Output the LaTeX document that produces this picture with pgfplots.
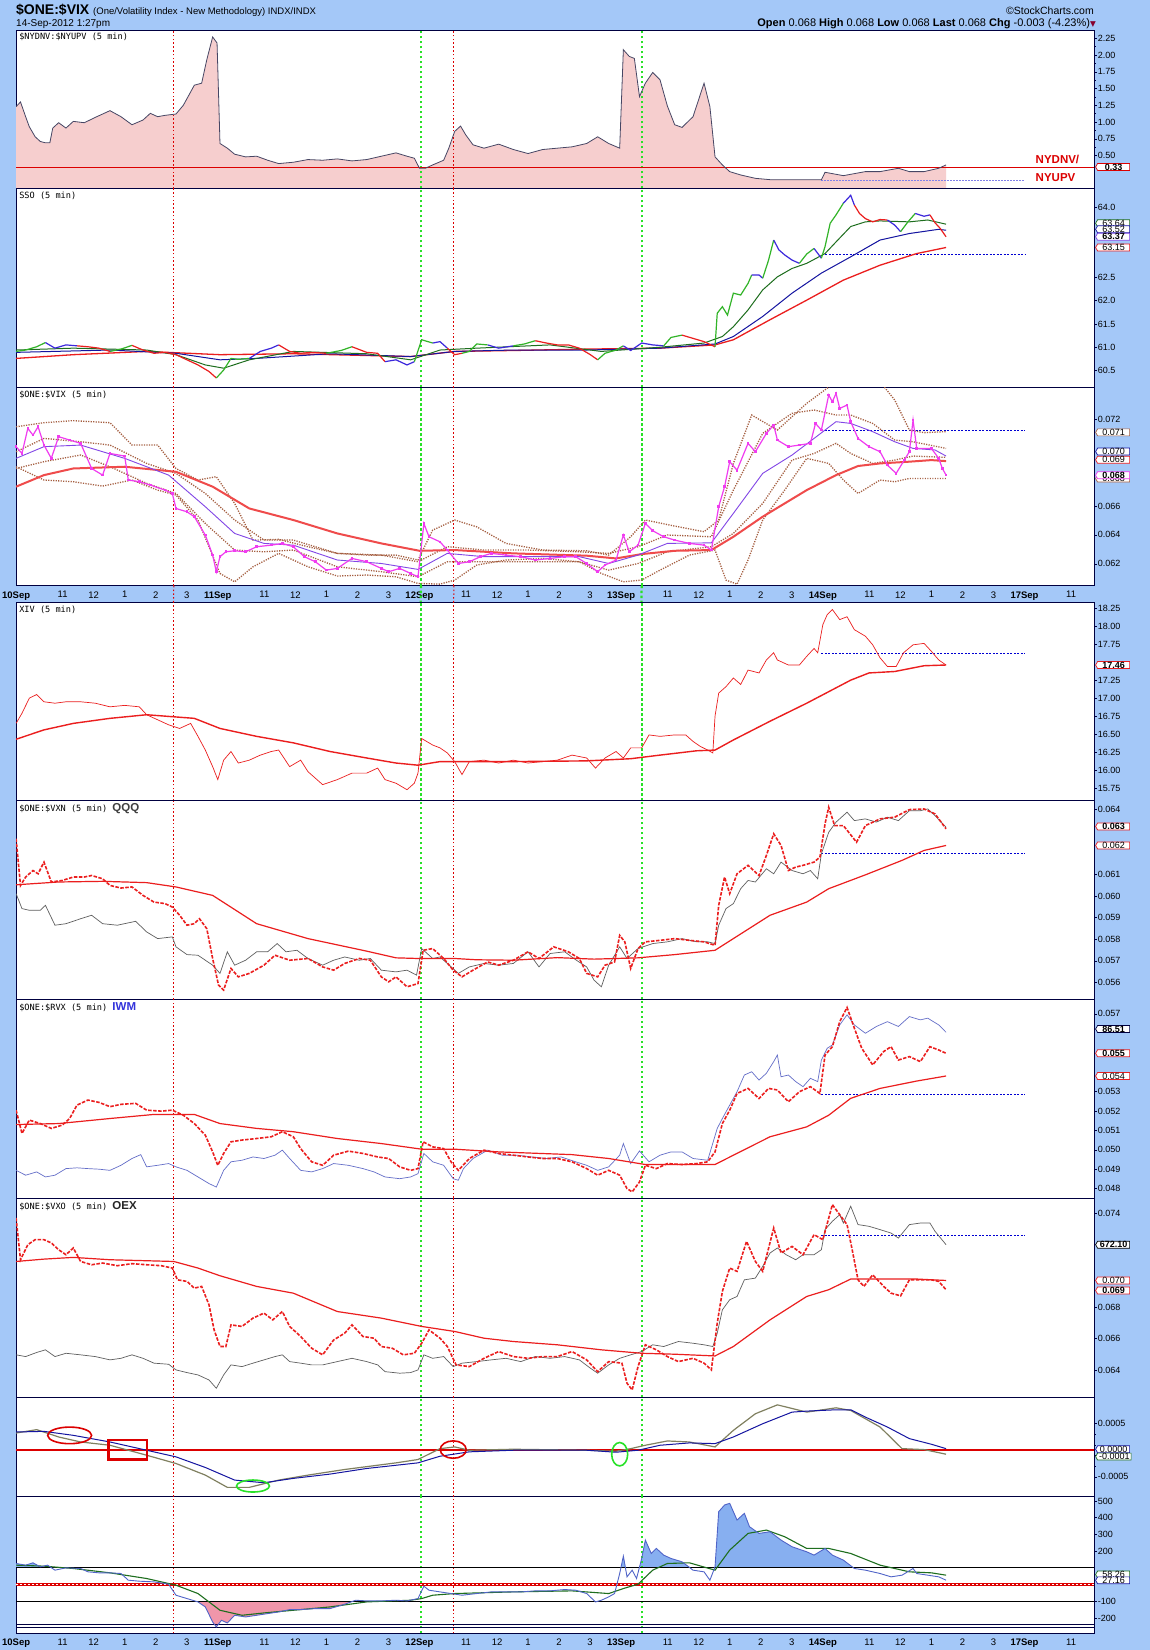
\documentclass[border=0pt]{standalone}
\usepackage{fontspec}
\setmainfont{Liberation Sans}
\newfontfamily\dejavu{DejaVu Sans}
\newfontfamily\monof{DejaVu Sans Mono}
\usepackage{pgfplots}
\pgfplotsset{compat=1.18}
\usetikzlibrary{shapes.symbols}

\definecolor{bgblue}{RGB}{164,200,248}
\definecolor{navy}{RGB}{0,0,64}
\definecolor{pinkfill}{RGB}{246,206,206}
\definecolor{p1line}{RGB}{70,70,100}
\definecolor{eg}{RGB}{50,180,40}
\definecolor{er}{RGB}{235,30,30}
\definecolor{eb}{RGB}{60,40,220}
\definecolor{mag}{RGB}{240,60,240}
\definecolor{mapurple}{RGB}{130,70,230}
\definecolor{bbrown}{RGB}{165,95,65}
\definecolor{greybar}{RGB}{95,95,95}
\definecolor{iwmblue}{RGB}{100,110,200}
\definecolor{oscblue}{RGB}{20,20,160}
\definecolor{olive}{RGB}{128,128,96}
\definecolor{cciblue}{RGB}{80,100,200}
\definecolor{ccifill}{RGB}{135,175,240}
\definecolor{ccipink}{RGB}{240,150,170}
\definecolor{darkgreen}{RGB}{30,110,30}
\definecolor{vlred}{RGB}{220,0,0}
\definecolor{vlgreen}{RGB}{40,225,40}
\definecolor{hblue}{RGB}{0,0,210}

\tikzset{
  vred/.style={draw=vlred, line width=1pt, dash pattern=on 1.6pt off 2.2pt},
  vgreen/.style={draw=vlgreen, line width=2.2pt, dash pattern=on 2.4pt off 2.6pt},
  tag/.style={signal, signal to=west, signal pointer angle=120, draw=#1, fill=white,
    line width=0.7pt, inner xsep=1.5pt, inner ysep=0.3pt, minimum width=34pt,
    anchor=west, xshift=1pt, text=black, font=\fontsize{9}{10}\selectfont},
  ptitle/.style={anchor=north west, inner sep=1pt, xshift=2pt, yshift=-2pt, font=\monof\fontsize{8.6}{10}\selectfont},
  hdash/.style={hblue, line width=0.9pt, dash pattern=on 2pt off 1.5pt},
  bdot/.style={bbrown, line width=1.3pt, dash pattern=on 1.2pt off 1.3pt},
  eline/.style={line width=1.2pt},
}
\pgfplotsset{
  panel/.style={
    scale only axis, width=1078.1pt, anchor=north west,
    xmin=22, xmax=1492, xtick=\empty,
    axis line style={draw=navy, line width=0.8pt},
    axis background/.style={fill=white},
    ytick pos=right, yticklabel pos=right, tick align=outside,
    major tick length=2.5pt, minor tick length=1.5pt,
    y tick style={navy, line width=0.5pt},
    minor y tick num=1,
    yticklabel style={font=\fontsize{9}{10}\selectfont, inner sep=1pt},
    /pgf/number format/assume math mode=true,
    scaled y ticks=false,
    clip mode=individual,
  },
  datex/.style={
    xtick={22,85.5,127.8,170.1,212.4,254.7,297,360.5,402.8,445.1,487.4,529.7,572,635.5,677.8,720.1,762.4,804.7,847,910.5,952.8,995.1,1037.4,1079.7,1122,1185.5,1227.8,1270.1,1312.4,1354.7,1397,1460.5},
    xticklabels={\textbf{10Sep},11,12,1,2,3,\textbf{11Sep},11,12,1,2,3,\textbf{12Sep},11,12,1,2,3,\textbf{13Sep},11,12,1,2,3,\textbf{14Sep},11,12,1,2,3,\textbf{17Sep},11},
    xticklabel pos=bottom,
    x tick style={draw=none},
    xticklabel style={font=\fontsize{9.5}{10}\selectfont, inner sep=1pt, yshift=-2pt},
  },
}
\newcommand{\vlines}{%
  \draw[vred] (axis cs:237,\pgfkeysvalueof{/pgfplots/ymin}) -- (axis cs:237,\pgfkeysvalueof{/pgfplots/ymax});
  \draw[vred] (axis cs:619,\pgfkeysvalueof{/pgfplots/ymin}) -- (axis cs:619,\pgfkeysvalueof{/pgfplots/ymax});
  \draw[vgreen] (axis cs:574,\pgfkeysvalueof{/pgfplots/ymin}) -- (axis cs:574,\pgfkeysvalueof{/pgfplots/ymax});
  \draw[vgreen] (axis cs:875,\pgfkeysvalueof{/pgfplots/ymin}) -- (axis cs:875,\pgfkeysvalueof{/pgfplots/ymax});
}
\newcommand{\tagat}[4][]{\node[tag=#2,#1] at (axis cs:1492,#3) {#4};}

\begin{document}
\begin{tikzpicture}[x=1pt,y=1pt]
\fill[bgblue] (0,0) rectangle (1150,-1650);
\path[use as bounding box] (0,0) rectangle (1150,-1650);

% header
\node[anchor=base west, inner sep=0] at (16,-14) {\fontsize{14}{16}\selectfont\bfseries \$ONE:\$VIX\ \fontsize{9.5}{11}\mdseries(One/Volatility Index - New Methodology) INDX/INDX};
\node[anchor=base west, inner sep=0] at (16,-26.5) {\fontsize{10}{11}\selectfont 14-Sep-2012 1:27pm};
\node[anchor=base east, inner sep=0] at (1094,-14) {\fontsize{10.5}{12}\selectfont \textcopyright StockCharts.com};
\node[anchor=base east, inner sep=0] at (1096,-26.5) {\fontsize{11}{12}\selectfont \textbf{Open} 0.068 \textbf{High} 0.068 \textbf{Low} 0.068 \textbf{Last} 0.068 \textbf{Chg} -0.003 (-4.23\%){\dejavu\color{purple!70!black}\fontsize{7.5}{8}\selectfont ▼}};

% ===== Panel 1 =====
\begin{axis}[panel, at={(16.1pt,-30pt)}, height=158.3pt, ymin=0.011, ymax=2.374,
  ytick={0.5,0.75,1,1.25,1.5,1.75,2,2.25},
  yticklabel style={/pgf/number format/.cd,fixed,fixed zerofill,precision=2}]
\addplot[fill=pinkfill, draw=none] coordinates {(22,1.23)(28,1.30)(35,1.08)(40,0.93)(48,0.78)(55,0.71)(62,0.69)(68,0.69)(72,0.91)(80,0.99)(90,0.91)(100,1.01)(115,0.99)(130,1.07)(150,1.17)(165,1.08)(180,0.96)(195,1.03)(205,1.13)(215,1.08)(225,1.10)(240,1.12)(250,1.25)(265,1.55)(275,1.58)(282,1.93)(290,2.27)(296,2.18)(300,0.68)(310,0.61)(320,0.52)(335,0.48)(350,0.49)(365,0.43)(380,0.38)(400,0.40)(420,0.44)(440,0.43)(460,0.45)(480,0.42)(500,0.44)(520,0.49)(540,0.54)(555,0.49)(565,0.46)(572,0.31)(580,0.31)(590,0.36)(605,0.43)(612,0.61)(620,0.86)(628,0.94)(635,0.81)(645,0.66)(660,0.61)(680,0.67)(700,0.59)(720,0.53)(740,0.59)(760,0.61)(780,0.63)(800,0.68)(815,0.78)(830,0.68)(845,0.61)(850,2.08)(858,1.98)(865,1.95)(872,1.38)(880,1.58)(890,1.74)(900,1.63)(910,1.24)(920,0.96)(930,0.92)(945,1.08)(960,1.58)(968,1.23)(975,0.48)(985,0.36)(995,0.26)(1010,0.21)(1030,0.16)(1050,0.14)(1080,0.14)(1120,0.14)(1125,0.25)(1150,0.20)(1180,0.26)(1200,0.26)(1225,0.31)(1240,0.26)(1260,0.26)(1280,0.31)(1290,0.36)} \closedcycle;
\vlines
\addplot[hblue!50!white, line width=0.9pt, dash pattern=on 1.5pt off 1.5pt] coordinates {(1120,0.125)(1398,0.125)};
\addplot[vlred, line width=1pt] coordinates {(22,0.325)(1492,0.325)};
\addplot[p1line, line width=0.8pt] coordinates {(22,1.23)(28,1.30)(35,1.08)(40,0.93)(48,0.78)(55,0.71)(62,0.69)(68,0.69)(72,0.91)(80,0.99)(90,0.91)(100,1.01)(115,0.99)(130,1.07)(150,1.17)(165,1.08)(180,0.96)(195,1.03)(205,1.13)(215,1.08)(225,1.10)(240,1.12)(250,1.25)(265,1.55)(275,1.58)(282,1.93)(290,2.27)(296,2.18)(300,0.68)(310,0.61)(320,0.52)(335,0.48)(350,0.49)(365,0.43)(380,0.38)(400,0.40)(420,0.44)(440,0.43)(460,0.45)(480,0.42)(500,0.44)(520,0.49)(540,0.54)(555,0.49)(565,0.46)(572,0.31)(580,0.31)(590,0.36)(605,0.43)(612,0.61)(620,0.86)(628,0.94)(635,0.81)(645,0.66)(660,0.61)(680,0.67)(700,0.59)(720,0.53)(740,0.59)(760,0.61)(780,0.63)(800,0.68)(815,0.78)(830,0.68)(845,0.61)(850,2.08)(858,1.98)(865,1.95)(872,1.38)(880,1.58)(890,1.74)(900,1.63)(910,1.24)(920,0.96)(930,0.92)(945,1.08)(960,1.58)(968,1.23)(975,0.48)(985,0.36)(995,0.26)(1010,0.21)(1030,0.16)(1050,0.14)(1080,0.14)(1120,0.14)(1125,0.25)(1150,0.20)(1180,0.26)(1200,0.26)(1225,0.31)(1240,0.26)(1260,0.26)(1280,0.31)(1290,0.36)};
\node[ptitle] at (rel axis cs:0,1) {\$NYDNV:\$NYUPV (5 min)};
\node[anchor=west, text=vlred, font=\fontsize{11.5}{12}\selectfont\bfseries, inner sep=0] at (axis cs:1412,0.44) {NYDNV/};
\node[anchor=west, text=vlred, font=\fontsize{11.5}{12}\selectfont\bfseries, inner sep=0] at (axis cs:1412,0.175) {NYUPV};
\tagat{vlred}{0.33}{\textbf{0.33}}
\end{axis}

% ===== Panel 2 SSO =====
\begin{axis}[panel, at={(16.1pt,-188.3pt)}, height=199pt, ymin=60.14, ymax=64.41,
  ytick={60.5,61,61.5,62,62.5,64},
  yticklabel style={/pgf/number format/.cd,fixed,fixed zerofill,precision=1}]
\vlines
\addplot[hdash] coordinates {(1125,62.99)(1398,62.99)};
\addplot[er, line width=1.3pt] coordinates {(22,60.76)(100,60.84)(200,60.91)(300,60.84)(400,60.86)(560,60.80)(620,60.91)(700,60.93)(800,60.96)(900,60.98)(975,61.05)(1000,61.16)(1050,61.59)(1100,62.01)(1150,62.44)(1200,62.76)(1250,63.01)(1290,63.14)};
\addplot[oscblue, line width=1pt] coordinates {(22,60.89)(150,60.94)(240,60.87)(300,60.73)(350,60.76)(450,60.86)(560,60.80)(620,60.91)(700,60.94)(800,60.94)(900,60.98)(975,61.07)(1000,61.23)(1040,61.66)(1080,62.16)(1120,62.59)(1160,62.94)(1200,63.30)(1240,63.44)(1280,63.53)(1290,63.51)};
\addplot[darkgreen, line width=1pt] coordinates {(22,60.94)(100,60.98)(200,60.94)(240,60.84)(280,60.62)(305,60.55)(340,60.73)(400,60.91)(500,60.86)(560,60.73)(600,60.94)(650,60.98)(750,61.05)(820,60.91)(900,61.00)(960,61.09)(985,61.23)(1000,61.44)(1020,61.80)(1040,62.23)(1060,62.51)(1080,62.69)(1100,62.80)(1125,63.01)(1140,63.26)(1160,63.59)(1180,63.69)(1200,63.71)(1240,63.69)(1265,63.73)(1290,63.64)};
\addplot[eg, eline] coordinates {(22,60.91)(35,60.94)(50,61.01)(62,61.10)};
\addplot[eb, eline] coordinates {(62,61.10)(75,60.98)(90,61.05)(105,61.03)};
\addplot[er, eline] coordinates {(105,61.03)(120,61.01)(135,60.98)(150,60.91)};
\addplot[eg, eline] coordinates {(150,60.91)(165,60.96)(180,61.04)};
\addplot[er, eline] coordinates {(180,61.04)(195,60.94)(210,60.87)(225,60.89)(240,60.84)(255,60.73)(270,60.62)(285,60.48)(295,60.34)};
\addplot[eg, eline] coordinates {(295,60.34)(305,60.51)(315,60.76)(325,60.74)(340,60.76)};
\addplot[eb, eline] coordinates {(340,60.76)(355,60.91)(370,60.98)(380,61.05)};
\addplot[er, eline] coordinates {(380,61.05)(395,60.91)(410,60.87)(425,60.89)(445,60.87)};
\addplot[eg, eline] coordinates {(445,60.87)(465,60.93)(480,61.01)};
\addplot[er, eline] coordinates {(480,61.01)(500,60.89)(515,60.87)(525,60.69)};
\addplot[eb, eline] coordinates {(525,60.69)(540,60.73)(555,60.62)(565,60.69)};
\addplot[eg, eline] coordinates {(565,60.69)(575,61.16)(590,61.09)};
\addplot[eb, eline] coordinates {(590,61.09)(600,61.12)(610,60.98)};
\addplot[er, eline] coordinates {(610,60.98)(620,60.84)(630,60.87)};
\addplot[eg, eline] coordinates {(630,60.87)(640,60.91)(650,61.07)(665,61.05)};
\addplot[eb, eline] coordinates {(665,61.05)(680,60.98)(700,61.03)};
\addplot[eg, eline] coordinates {(700,61.03)(715,61.07)(730,61.14)};
\addplot[er, eline] coordinates {(730,61.14)(745,61.09)(760,61.05)(775,61.05)(790,60.98)(805,60.84)(815,60.73)};
\addplot[eg, eline] coordinates {(815,60.73)(825,60.87)(840,60.94)(850,61.03)};
\addplot[eb, eline] coordinates {(850,61.03)(860,60.93)(875,61.09)(890,61.05)(905,61.03)};
\addplot[eg, eline] coordinates {(905,61.03)(915,61.21)(930,61.26)};
\addplot[er, eline] coordinates {(930,61.26)(945,61.19)(960,61.12)(975,61.01)};
\addplot[eg, eline] coordinates {(975,61.01)(978,61.73)(985,61.87)(992,61.69)(1000,62.16)(1010,62.12)(1020,62.37)(1025,62.55)};
\addplot[eb, eline] coordinates {(1025,62.55)(1035,62.55)(1040,62.48)};
\addplot[eg, eline] coordinates {(1040,62.48)(1048,62.87)(1055,63.30)};
\addplot[eb, eline] coordinates {(1055,63.30)(1062,63.09)(1070,62.98)(1080,62.87)(1090,62.80)};
\addplot[eg, eline] coordinates {(1090,62.80)(1100,63.00)(1110,63.12)};
\addplot[eb, eline] coordinates {(1110,63.12)(1120,62.91)};
\addplot[eg, eline] coordinates {(1120,62.91)(1125,63.16)(1132,63.66)(1140,63.84)(1150,64.09)};
\addplot[eb, eline] coordinates {(1150,64.09)(1160,64.26)(1165,64.05)};
\addplot[er, eline] coordinates {(1165,64.05)(1172,63.87)(1180,63.76)(1190,63.69)(1200,63.74)(1210,63.73)};
\addplot[eb, eline] coordinates {(1210,63.73)(1220,63.62)(1228,63.48)};
\addplot[eg, eline] coordinates {(1228,63.48)(1238,63.69)(1248,63.87)};
\addplot[eb, eline] coordinates {(1248,63.87)(1260,63.81)(1268,63.84)};
\addplot[er, eline] coordinates {(1268,63.84)(1275,63.67)(1282,63.55)(1290,63.37)};
\node[ptitle] at (rel axis cs:0,1) {SSO (5 min)};
\tagat{darkgreen}{63.66}{63.64}
\tagat{oscblue}{63.53}{63.52}
\tagat{mapurple}{63.37}{\textbf{63.37}}
\tagat{er}{63.14}{63.15}
\end{axis}

% ===== Panel 3 ONE:VIX =====
\begin{axis}[panel, at={(16.1pt,-387.3pt)}, height=198.4pt, ymin=0.06048, ymax=0.07422,
  ytick={0.062,0.064,0.066,0.072},
  yticklabel style={/pgf/number format/.cd,fixed,fixed zerofill,precision=3},
  datex]
\vlines
\draw[vred] (axis cs:237,0.06048) -- ++(0,-16.6pt);
\draw[vred] (axis cs:619,0.06048) -- ++(0,-16.6pt);
\draw[vgreen] (axis cs:574,0.06048) -- ++(0,-16.6pt);
\draw[vgreen] (axis cs:875,0.06048) -- ++(0,-16.6pt);
\addplot[hdash] coordinates {(1120,0.07121)(1398,0.07121)};
\addplot[bdot] coordinates {(22,0.07149)(60,0.07177)(100,0.07191)(150,0.07177)(180,0.07022)(215,0.07022)(240,0.06860)(270,0.06780)(295,0.06803)(320,0.06618)(345,0.06364)(380,0.06369)(420,0.06318)(460,0.06272)(500,0.06260)(540,0.06260)(570,0.06226)(590,0.06433)(620,0.06503)(650,0.06456)(690,0.06341)(740,0.06295)(800,0.06290)(830,0.06260)(860,0.06387)(880,0.06503)(920,0.06461)(960,0.06422)(980,0.06503)(1000,0.06895)(1025,0.07230)(1060,0.07126)(1100,0.07311)(1140,0.07461)(1160,0.07473)(1200,0.07461)(1220,0.07334)(1240,0.07126)(1260,0.07108)(1290,0.07115)};
\addplot[bdot] coordinates {(22,0.06872)(60,0.06780)(100,0.06768)(140,0.06738)(180,0.06780)(215,0.06710)(240,0.06676)(270,0.06503)(300,0.06133)(320,0.06075)(345,0.06179)(380,0.06272)(420,0.06179)(460,0.06115)(500,0.06122)(540,0.06110)(570,0.06064)(600,0.06059)(620,0.06087)(650,0.06191)(690,0.06226)(740,0.06237)(790,0.06214)(820,0.06133)(850,0.06075)(875,0.06087)(900,0.06156)(940,0.06260)(975,0.06295)(990,0.06087)(1005,0.06059)(1020,0.06226)(1040,0.06503)(1070,0.06710)(1100,0.06930)(1130,0.06895)(1150,0.06780)(1170,0.06687)(1200,0.06780)(1220,0.06768)(1240,0.06791)(1290,0.06791)};
\addplot[bdot] coordinates {(22,0.06976)(60,0.07068)(110,0.07045)(150,0.07022)(200,0.06895)(240,0.06826)(280,0.06687)(320,0.06503)(360,0.06364)(400,0.06364)(460,0.06272)(520,0.06260)(570,0.06214)(610,0.06318)(660,0.06295)(720,0.06295)(790,0.06283)(830,0.06272)(870,0.06318)(910,0.06399)(970,0.06387)(1000,0.06710)(1040,0.07103)(1080,0.07242)(1110,0.07265)(1140,0.07230)(1160,0.07230)(1190,0.07172)(1220,0.07057)(1245,0.07045)(1290,0.06999)};
\addplot[bdot] coordinates {(22,0.06860)(60,0.06907)(110,0.06953)(150,0.06872)(200,0.06757)(240,0.06687)(280,0.06479)(320,0.06295)(360,0.06283)(400,0.06295)(460,0.06179)(520,0.06145)(570,0.06110)(610,0.06214)(660,0.06214)(720,0.06214)(790,0.06214)(830,0.06156)(870,0.06202)(910,0.06283)(970,0.06318)(1000,0.06410)(1040,0.06618)(1080,0.06918)(1110,0.06964)(1140,0.07034)(1160,0.06964)(1190,0.06895)(1220,0.06918)(1245,0.06946)(1290,0.06937)};
\addplot[er!80!white, line width=2pt] coordinates {(22,0.06734)(60,0.06814)(100,0.06860)(170,0.06872)(240,0.06837)(290,0.06734)(340,0.06583)(400,0.06503)(460,0.06410)(520,0.06341)(572,0.06290)(620,0.06295)(700,0.06272)(800,0.06256)(840,0.06237)(875,0.06267)(920,0.06290)(970,0.06295)(1000,0.06387)(1040,0.06526)(1100,0.06710)(1140,0.06814)(1170,0.06877)(1200,0.06895)(1240,0.06907)(1270,0.06918)(1290,0.06911)};
\addplot[mapurple, line width=0.9pt] coordinates {(22,0.06930)(60,0.07011)(110,0.07022)(170,0.06930)(230,0.06814)(280,0.06595)(320,0.06410)(360,0.06341)(400,0.06329)(460,0.06226)(520,0.06202)(570,0.06161)(610,0.06272)(660,0.06249)(720,0.06249)(790,0.06249)(830,0.06202)(870,0.06260)(910,0.06341)(970,0.06345)(1000,0.06549)(1040,0.06826)(1080,0.06953)(1110,0.07068)(1140,0.07184)(1160,0.07172)(1190,0.07115)(1220,0.07045)(1245,0.06999)(1275,0.06988)(1290,0.06946)};
\addplot[mag, line width=1.2pt, mark=square*, mark size=0.7pt] coordinates {(22,0.07011)(30,0.06964)(38,0.07138)(45,0.07091)(52,0.07149)(60,0.07022)(70,0.06930)(80,0.07080)(95,0.07057)(110,0.07034)(125,0.06860)(140,0.06814)(150,0.06964)(170,0.06946)(175,0.06780)(190,0.06768)(205,0.06745)(225,0.06710)(235,0.06687)(240,0.06583)(255,0.06560)(265,0.06526)(280,0.06399)(290,0.06260)(295,0.06145)(300,0.06249)(308,0.06283)(320,0.06290)(335,0.06283)(350,0.06318)(370,0.06329)(385,0.06341)(400,0.06318)(415,0.06249)(430,0.06214)(445,0.06156)(460,0.06168)(480,0.06237)(500,0.06214)(520,0.06168)(530,0.06145)(545,0.06168)(560,0.06133)(570,0.06110)(578,0.06479)(585,0.06387)(600,0.06352)(610,0.06295)(625,0.06202)(640,0.06214)(655,0.06249)(670,0.06272)(690,0.06260)(710,0.06249)(730,0.06226)(750,0.06237)(770,0.06249)(785,0.06249)(800,0.06202)(815,0.06145)(825,0.06191)(840,0.06226)(850,0.06399)(858,0.06283)(870,0.06329)(880,0.06479)(890,0.06429)(905,0.06387)(920,0.06364)(940,0.06341)(960,0.06329)(970,0.06295)(980,0.06595)(988,0.06734)(995,0.06907)(1005,0.06848)(1020,0.07034)(1030,0.06976)(1045,0.07103)(1055,0.07161)(1060,0.07057)(1075,0.07011)(1090,0.07022)(1105,0.07034)(1112,0.07172)(1120,0.07126)(1130,0.07369)(1135,0.07322)(1140,0.07380)(1145,0.07276)(1155,0.07299)(1160,0.07184)(1170,0.07068)(1185,0.07011)(1200,0.06976)(1210,0.06883)(1222,0.06826)(1233,0.06918)(1240,0.06976)(1245,0.07195)(1250,0.06999)(1270,0.06999)(1280,0.06930)(1285,0.06860)(1290,0.06814)};
\node[ptitle] at (rel axis cs:0,1) {\$ONE:\$VIX (5 min)};
\tagat{bbrown}{0.07110}{0.071}
\tagat{oscblue}{0.06977}{0.070}
\tagat{er}{0.06920}{0.069}
\tagat{bbrown}{0.06790}{0.068}
\tagat{mag}{0.06813}{\textbf{0.068}}
\end{axis}

% ===== Panel 4 XIV =====
\begin{axis}[panel, at={(16.1pt,-602.3pt)}, height=198.2pt, ymin=15.58, ymax=18.33,
  ytick={15.75,16,16.25,16.5,16.75,17,17.25,17.75,18,18.25},
  yticklabel style={/pgf/number format/.cd,fixed,fixed zerofill,precision=2}]
\vlines
\addplot[hdash] coordinates {(1120,17.625)(1398,17.625)};
\addplot[er, line width=1.4pt] coordinates {(22,16.43)(60,16.56)(100,16.65)(150,16.72)(200,16.77)(265,16.72)(300,16.58)(350,16.47)(400,16.38)(450,16.26)(500,16.17)(540,16.10)(570,16.07)(600,16.12)(700,16.12)(800,16.13)(860,16.16)(900,16.21)(950,16.27)(975,16.28)(1000,16.42)(1050,16.68)(1100,16.93)(1130,17.09)(1160,17.25)(1185,17.35)(1220,17.37)(1260,17.45)(1290,17.46)};
\addplot[er, line width=0.7pt] coordinates {(22,16.65)(30,16.79)(40,17.00)(50,17.05)(60,16.95)(75,16.93)(90,16.95)(110,16.95)(130,16.93)(150,16.88)(170,16.90)(190,16.88)(200,16.77)(215,16.70)(230,16.63)(245,16.58)(260,16.65)(270,16.47)(280,16.28)(290,16.05)(297,15.87)(305,16.14)(315,16.26)(325,16.10)(340,16.14)(355,16.21)(370,16.26)(380,16.28)(395,16.05)(410,16.14)(420,15.98)(440,15.80)(460,15.87)(480,15.96)(500,15.96)(515,16.03)(525,15.87)(540,15.82)(555,15.73)(565,15.82)(570,15.96)(575,16.44)(590,16.35)(600,16.31)(610,16.24)(620,16.12)(630,15.94)(640,16.12)(660,16.14)(680,16.10)(700,16.14)(720,16.10)(740,16.12)(760,16.14)(780,16.21)(800,16.17)(812,16.03)(825,16.17)(840,16.26)(850,16.17)(860,16.31)(875,16.31)(885,16.49)(900,16.47)(920,16.49)(935,16.49)(945,16.40)(955,16.33)(965,16.28)(972,16.24)(975,16.75)(980,17.07)(990,17.16)(1000,17.28)(1010,17.19)(1020,17.39)(1035,17.35)(1045,17.53)(1055,17.63)(1060,17.53)(1075,17.46)(1090,17.46)(1100,17.58)(1110,17.69)(1115,17.63)(1122,18.02)(1128,18.16)(1135,18.23)(1145,18.09)(1155,18.13)(1165,17.95)(1180,17.86)(1190,17.74)(1200,17.56)(1210,17.44)(1222,17.44)(1232,17.63)(1245,17.74)(1260,17.76)(1270,17.65)(1280,17.53)(1290,17.46)};
\node[ptitle] at (rel axis cs:0,1) {XIV (5 min)};
\tagat{er}{17.46}{\textbf{17.46}}
\end{axis}

% ===== Panel 5 VXN =====
\begin{axis}[panel, at={(16.1pt,-800.5pt)}, height=198.6pt, ymin=0.05523, ymax=0.06442,
  ytick={0.056,0.057,0.058,0.059,0.060,0.061,0.064},
  yticklabel style={/pgf/number format/.cd,fixed,fixed zerofill,precision=3}]
\vlines
\addplot[hdash] coordinates {(1120,0.06195)(1398,0.06195)};
\addplot[greybar, line width=0.7pt] coordinates {(22,0.06011)(30,0.05942)(40,0.05934)(55,0.05934)(62,0.05957)(75,0.05865)(90,0.05872)(110,0.05895)(125,0.05911)(140,0.05872)(160,0.05865)(185,0.05883)(200,0.05834)(215,0.05803)(235,0.05811)(240,0.05765)(255,0.05729)(270,0.05726)(290,0.05680)(300,0.05642)(310,0.05742)(320,0.05680)(335,0.05703)(350,0.05742)(365,0.05742)(378,0.05780)(390,0.05742)(405,0.05749)(420,0.05711)(440,0.05680)(455,0.05703)(470,0.05718)(490,0.05703)(505,0.05711)(520,0.05657)(540,0.05649)(555,0.05657)(568,0.05634)(575,0.05757)(590,0.05711)(600,0.05718)(610,0.05688)(625,0.05642)(640,0.05672)(660,0.05688)(680,0.05680)(700,0.05688)(720,0.05742)(735,0.05672)(750,0.05734)(770,0.05742)(785,0.05705)(800,0.05672)(810,0.05611)(820,0.05580)(830,0.05680)(845,0.05765)(855,0.05711)(870,0.05757)(890,0.05780)(910,0.05788)(930,0.05803)(950,0.05788)(965,0.05788)(975,0.05780)(980,0.05865)(990,0.05942)(1000,0.05965)(1010,0.06034)(1020,0.06072)(1030,0.06065)(1045,0.06126)(1055,0.06103)(1065,0.06157)(1080,0.06118)(1095,0.06103)(1105,0.06118)(1115,0.06080)(1120,0.06195)(1130,0.06295)(1140,0.06342)(1155,0.06388)(1165,0.06349)(1180,0.06357)(1195,0.06342)(1210,0.06365)(1225,0.06349)(1240,0.06395)(1255,0.06395)(1265,0.06403)(1275,0.06372)(1290,0.06318)};
\addplot[er, line width=1.2pt] coordinates {(22,0.06052)(80,0.06065)(140,0.06068)(200,0.06062)(240,0.06042)(290,0.06003)(350,0.05872)(420,0.05803)(500,0.05745)(540,0.05714)(570,0.05711)(620,0.05711)(650,0.05705)(700,0.05703)(760,0.05715)(810,0.05708)(870,0.05714)(920,0.05729)(975,0.05749)(1000,0.05803)(1050,0.05911)(1100,0.05972)(1130,0.06034)(1180,0.06098)(1230,0.06165)(1260,0.06211)(1290,0.06234)};
\addplot[er, line width=1.6pt, dash pattern=on 3.5pt off 1.5pt] coordinates {(22,0.06265)(28,0.06049)(35,0.06088)(45,0.06118)(52,0.06103)(60,0.06157)(70,0.06065)(85,0.06072)(100,0.06088)(115,0.06088)(125,0.06095)(140,0.06080)(150,0.06049)(165,0.06037)(180,0.06042)(195,0.06003)(210,0.05972)(225,0.05965)(235,0.05949)(245,0.05911)(255,0.05865)(265,0.05872)(272,0.05895)(282,0.05849)(290,0.05711)(298,0.05588)(305,0.05565)(315,0.05665)(325,0.05626)(340,0.05642)(360,0.05680)(375,0.05726)(395,0.05703)(420,0.05711)(440,0.05672)(455,0.05657)(470,0.05688)(490,0.05711)(505,0.05703)(520,0.05626)(530,0.05603)(540,0.05626)(555,0.05580)(570,0.05595)(577,0.05749)(590,0.05757)(605,0.05711)(618,0.05657)(630,0.05626)(645,0.05657)(665,0.05695)(680,0.05680)(700,0.05703)(720,0.05742)(735,0.05711)(755,0.05765)(775,0.05742)(790,0.05711)(800,0.05642)(815,0.05626)(825,0.05680)(838,0.05695)(845,0.05818)(852,0.05788)(860,0.05665)(870,0.05757)(880,0.05788)(900,0.05795)(920,0.05803)(940,0.05795)(960,0.05788)(975,0.05772)(980,0.05957)(988,0.06088)(995,0.06011)(1005,0.06103)(1020,0.06142)(1035,0.06095)(1045,0.06188)(1055,0.06288)(1065,0.06234)(1075,0.06118)(1085,0.06134)(1095,0.06142)(1110,0.06157)(1118,0.06180)(1125,0.06334)(1130,0.06411)(1138,0.06326)(1150,0.06326)(1168,0.06249)(1180,0.06326)(1200,0.06357)(1220,0.06365)(1240,0.06400)(1260,0.06403)(1275,0.06380)(1290,0.06311)};
\node[ptitle] at (rel axis cs:0,1) {\$ONE:\$VXN (5 min) {\normalfont\fontsize{11.5}{12}\selectfont\bfseries\color{black!75}QQQ}};
\tagat{er}{0.06322}{\textbf{0.063}}
\tagat{er}{0.06234}{0.062}
\end{axis}

% ===== Panel 6 RVX =====
\begin{axis}[panel, at={(16.1pt,-999.1pt)}, height=198.8pt, ymin=0.04752, ymax=0.05776,
  ytick={0.048,0.049,0.050,0.051,0.052,0.053,0.057},
  yticklabel style={/pgf/number format/.cd,fixed,fixed zerofill,precision=3}]
\vlines
\addplot[hdash] coordinates {(1120,0.05285)(1398,0.05285)};
\addplot[iwmblue, line width=0.7pt] coordinates {(22,0.04894)(35,0.04869)(50,0.04886)(62,0.04860)(75,0.04869)(90,0.04903)(105,0.04907)(120,0.04903)(135,0.04900)(150,0.04894)(165,0.04920)(180,0.04955)(192,0.04975)(200,0.04912)(215,0.04920)(230,0.04929)(240,0.04912)(255,0.04894)(270,0.04860)(285,0.04826)(295,0.04808)(305,0.04894)(315,0.04938)(330,0.04946)(345,0.04963)(360,0.04955)(375,0.04972)(385,0.04998)(395,0.04955)(410,0.04894)(425,0.04886)(440,0.04903)(455,0.04929)(475,0.04920)(495,0.04903)(510,0.04886)(525,0.04860)(545,0.04851)(560,0.04860)(570,0.04877)(578,0.04981)(590,0.04938)(605,0.04920)(618,0.04851)(625,0.04843)(632,0.04903)(645,0.04955)(665,0.04998)(685,0.04972)(705,0.04972)(725,0.04963)(745,0.04955)(765,0.04963)(785,0.04938)(800,0.04920)(815,0.04894)(830,0.04912)(845,0.04972)(850,0.05032)(860,0.04929)(872,0.04994)(885,0.04938)(900,0.04972)(915,0.04989)(930,0.04989)(945,0.04955)(965,0.04946)(978,0.05110)(985,0.05161)(995,0.05230)(1005,0.05299)(1015,0.05385)(1025,0.05402)(1035,0.05359)(1045,0.05394)(1055,0.05454)(1060,0.05488)(1065,0.05376)(1075,0.05385)(1085,0.05351)(1095,0.05325)(1105,0.05368)(1115,0.05351)(1120,0.05462)(1128,0.05523)(1135,0.05540)(1145,0.05643)(1155,0.05695)(1165,0.05643)(1180,0.05600)(1195,0.05635)(1210,0.05660)(1225,0.05635)(1240,0.05686)(1255,0.05669)(1265,0.05678)(1280,0.05643)(1290,0.05605)};
\addplot[er, line width=1.2pt] coordinates {(22,0.05130)(80,0.05135)(150,0.05161)(210,0.05182)(265,0.05182)(300,0.05135)(350,0.05110)(400,0.05093)(460,0.05058)(520,0.05032)(575,0.05003)(620,0.05003)(680,0.04989)(780,0.04975)(830,0.04955)(880,0.04924)(975,0.04924)(1000,0.04972)(1050,0.05067)(1100,0.05118)(1130,0.05178)(1160,0.05265)(1200,0.05316)(1250,0.05354)(1290,0.05380)};
\addplot[er, line width=1.6pt, dash pattern=on 3.5pt off 1.5pt] coordinates {(22,0.05204)(30,0.05084)(40,0.05153)(55,0.05135)(70,0.05110)(85,0.05127)(95,0.05161)(105,0.05230)(120,0.05256)(135,0.05244)(150,0.05222)(165,0.05234)(185,0.05239)(200,0.05204)(220,0.05199)(235,0.05204)(250,0.05178)(265,0.05135)(280,0.05075)(290,0.04989)(297,0.04920)(305,0.04981)(315,0.05041)(330,0.05050)(350,0.05058)(370,0.05067)(385,0.05093)(400,0.05067)(410,0.05006)(425,0.04938)(440,0.04920)(455,0.04972)(475,0.04993)(495,0.04981)(515,0.04963)(530,0.04955)(545,0.04912)(560,0.04894)(570,0.04903)(577,0.05041)(590,0.05015)(605,0.05006)(615,0.04938)(625,0.04894)(640,0.04955)(660,0.04998)(680,0.04981)(700,0.04972)(720,0.04963)(740,0.04955)(760,0.04955)(780,0.04938)(800,0.04903)(815,0.04869)(830,0.04894)(845,0.04869)(855,0.04800)(862,0.04783)(872,0.04834)(880,0.04920)(895,0.04903)(910,0.04929)(930,0.04924)(950,0.04929)(965,0.04938)(975,0.04989)(985,0.05135)(995,0.05204)(1005,0.05290)(1020,0.05316)(1035,0.05264)(1048,0.05316)(1060,0.05308)(1075,0.05247)(1090,0.05299)(1105,0.05325)(1118,0.05290)(1125,0.05488)(1135,0.05531)(1145,0.05660)(1155,0.05733)(1165,0.05626)(1175,0.05523)(1190,0.05437)(1205,0.05506)(1215,0.05531)(1225,0.05462)(1240,0.05480)(1255,0.05454)(1268,0.05531)(1280,0.05514)(1290,0.05497)};
\node[ptitle] at (rel axis cs:0,1) {\$ONE:\$RVX (5 min) {\normalfont\fontsize{11.5}{12}\selectfont\bfseries\color{hblue!80!white}IWM}};
\tagat{navy}{0.05622}{\textbf{86.51}}
\tagat{er}{0.05497}{\textbf{0.055}}
\tagat{er}{0.05380}{0.054}
\end{axis}

% ===== Panel 7 VXO =====
\begin{axis}[panel, at={(16.1pt,-1197.9pt)}, height=199.3pt, ymin=0.06226, ymax=0.07496,
  ytick={0.064,0.066,0.068,0.074},
  yticklabel style={/pgf/number format/.cd,fixed,fixed zerofill,precision=3}]
\vlines
\addplot[hdash] coordinates {(1120,0.07255)(1398,0.07255)};
\addplot[greybar, line width=0.7pt] coordinates {(22,0.06496)(35,0.06485)(50,0.06511)(62,0.06528)(75,0.06485)(90,0.06506)(110,0.06496)(130,0.06485)(150,0.06464)(165,0.06474)(180,0.06496)(195,0.06474)(210,0.06443)(230,0.06436)(240,0.06400)(255,0.06383)(270,0.06368)(285,0.06336)(295,0.06283)(305,0.06368)(315,0.06432)(330,0.06421)(345,0.06443)(360,0.06464)(375,0.06485)(385,0.06496)(395,0.06453)(410,0.06443)(425,0.06432)(440,0.06432)(460,0.06453)(480,0.06474)(500,0.06453)(515,0.06432)(525,0.06389)(545,0.06379)(560,0.06383)(570,0.06400)(578,0.06496)(590,0.06474)(605,0.06485)(618,0.06421)(630,0.06443)(650,0.06453)(670,0.06464)(690,0.06474)(710,0.06453)(730,0.06485)(750,0.06474)(770,0.06485)(790,0.06464)(805,0.06411)(815,0.06379)(830,0.06432)(845,0.06474)(860,0.06496)(875,0.06517)(890,0.06560)(905,0.06549)(925,0.06581)(945,0.06570)(960,0.06560)(972,0.06549)(978,0.06634)(985,0.06783)(995,0.06847)(1005,0.06868)(1015,0.06974)(1030,0.06985)(1040,0.07060)(1050,0.07145)(1060,0.07177)(1072,0.07134)(1085,0.07102)(1095,0.07134)(1110,0.07134)(1120,0.07166)(1125,0.07294)(1135,0.07347)(1145,0.07389)(1150,0.07336)(1160,0.07443)(1170,0.07326)(1185,0.07315)(1200,0.07294)(1215,0.07272)(1225,0.07240)(1240,0.07326)(1255,0.07336)(1268,0.07336)(1275,0.07283)(1290,0.07198)};
\addplot[er, line width=1.2pt] coordinates {(22,0.07091)(60,0.07106)(100,0.07117)(150,0.07102)(237,0.07091)(270,0.07049)(300,0.07000)(350,0.06932)(400,0.06889)(460,0.06772)(520,0.06730)(575,0.06677)(620,0.06645)(660,0.06602)(700,0.06581)(760,0.06560)(820,0.06528)(875,0.06506)(920,0.06500)(975,0.06489)(1000,0.06549)(1050,0.06719)(1100,0.06868)(1130,0.06911)(1160,0.06979)(1200,0.06979)(1250,0.06979)(1290,0.06970)};
\addplot[er, line width=1.6pt, dash pattern=on 3.5pt off 1.5pt] coordinates {(22,0.07368)(28,0.07102)(38,0.07198)(48,0.07230)(60,0.07230)(70,0.07209)(80,0.07166)(90,0.07134)(100,0.07177)(110,0.07091)(125,0.07070)(140,0.07081)(160,0.07064)(180,0.07077)(200,0.07070)(220,0.07064)(235,0.07049)(242,0.06974)(255,0.06964)(265,0.06921)(275,0.06932)(285,0.06815)(292,0.06655)(300,0.06549)(308,0.06549)(315,0.06687)(330,0.06677)(345,0.06730)(360,0.06762)(372,0.06719)(385,0.06772)(395,0.06677)(410,0.06613)(425,0.06538)(440,0.06496)(455,0.06591)(470,0.06634)(480,0.06687)(495,0.06613)(510,0.06602)(520,0.06549)(535,0.06538)(550,0.06496)(565,0.06506)(575,0.06570)(585,0.06655)(600,0.06602)(610,0.06549)(622,0.06432)(640,0.06421)(660,0.06474)(680,0.06517)(700,0.06485)(720,0.06474)(740,0.06485)(760,0.06485)(780,0.06517)(800,0.06464)(815,0.06389)(830,0.06453)(848,0.06443)(855,0.06315)(862,0.06272)(870,0.06421)(880,0.06560)(895,0.06528)(910,0.06485)(925,0.06453)(945,0.06474)(960,0.06443)(970,0.06400)(978,0.06698)(985,0.06900)(995,0.07049)(1005,0.07028)(1018,0.07219)(1030,0.07091)(1040,0.07028)(1055,0.07304)(1065,0.07145)(1080,0.07187)(1095,0.07134)(1110,0.07262)(1122,0.07230)(1135,0.07453)(1145,0.07389)(1155,0.07326)(1162,0.07166)(1170,0.06974)(1178,0.06932)(1190,0.07006)(1205,0.06932)(1215,0.06889)(1228,0.06872)(1240,0.06974)(1255,0.06974)(1270,0.06974)(1280,0.06964)(1290,0.06911)};
\node[ptitle] at (rel axis cs:0,1) {\$ONE:\$VXO (5 min) {\normalfont\fontsize{11.5}{12}\selectfont\bfseries\color{black!85}OEX}};
\tagat{black}{0.07198}{\textbf{672.10}}
\tagat{er}{0.06970}{0.070}
\tagat{er}{0.06906}{\textbf{0.069}}
\end{axis}

% ===== Panel 8 oscillator =====
\begin{axis}[panel, at={(16.1pt,-1397.2pt)}, height=99.1pt, ymin=-0.000869, ymax=0.001,
  ytick={-0.0005,0.0005}, minor y tick num=4,
  yticklabel style={/pgf/number format/.cd,fixed,fixed zerofill,precision=4}]
\vlines
\addplot[vlred, line width=2.4pt] coordinates {(22,0)(1492,0)};
\addplot[olive, line width=1.2pt] coordinates {(22,0.000325)(50,0.000388)(80,0.00025)(110,0.000156)(150,0.000094)(200,-0.000094)(240,-0.00025)(280,-0.000469)(310,-0.0007)(340,-0.0007)(380,-0.000563)(420,-0.000469)(470,-0.000363)(540,-0.000238)(570,-0.000175)(600,0.00003)(620,0.0000625)(640,0)(700,0.0000187)(800,0)(840,-0.0000187)(860,0.00003)(880,0.000094)(910,0.000175)(940,0.000156)(975,0.0000625)(1000,0.000375)(1030,0.000688)(1060,0.000856)(1100,0.000719)(1140,0.0008)(1160,0.00075)(1200,0.000438)(1230,0.00003)(1260,0.0000125)(1290,-0.000075)};
\addplot[oscblue, line width=1pt] coordinates {(22,0.000344)(60,0.000356)(100,0.000281)(150,0.000156)(200,0)(240,-0.000125)(280,-0.000325)(320,-0.000563)(360,-0.000613)(400,-0.000531)(450,-0.00045)(500,-0.000344)(570,-0.000238)(600,-0.000113)(640,-0.00003)(700,0)(800,0)(840,-0.0000375)(870,0)(900,0.000094)(940,0.000138)(975,0.000125)(1000,0.00025)(1040,0.0005)(1080,0.000719)(1100,0.000738)(1140,0.000763)(1160,0.000763)(1180,0.000625)(1210,0.000438)(1240,0.000219)(1270,0.000113)(1290,0.00003)};
\draw[vlred, line width=1.6pt] (axis cs:95,0.00028) ellipse [x radius=22pt, y radius=8.3pt];
\draw[vlred, line width=2.2pt] (axis cs:148,0.0001875) rectangle (axis cs:200,-0.000175);
\draw[vlgreen, line width=1.6pt] (axis cs:345,-0.000675) ellipse [x radius=16.5pt, y radius=6pt];
\draw[vlred, line width=1.6pt] (axis cs:618,0.0000125) ellipse [x radius=13pt, y radius=8.7pt];
\draw[vlgreen, line width=1.6pt] (axis cs:845,-0.000075) ellipse [x radius=8pt, y radius=11.7pt];
\tagat{oscblue}{0.000018}{0.0000}
\tagat{darkgreen}{-0.00012}{-0.0001}
\end{axis}

% ===== Panel 9 CCI =====
\begin{axis}[panel, at={(16.1pt,-1496.3pt)}, height=137pt, ymin=-292, ymax=528,
  ytick={-200,-100,200,300,400,500},
  yticklabel style={/pgf/number format/.cd,fixed,precision=0},
  datex]
\addplot[fill=ccifill, draw=none] coordinates {(22,100)(22,126)(35,116)(45,130)(55,106)(57,100)} -- cycle;
\addplot[fill=ccifill, draw=none] coordinates {(847,100)(850,170)(853,100)} -- cycle;
\addplot[fill=ccifill, draw=none] coordinates {(872,100)(875,156)(880,266)(888,186)(895,216)(905,176)(915,156)(930,136)(942,100)} -- cycle;
\addplot[fill=ccifill, draw=none] coordinates {(974,100)(975,106)(980,436)(988,476)(995,486)(1005,386)(1015,426)(1022,346)(1035,306)(1050,316)(1065,266)(1080,226)(1100,196)(1110,176)(1125,216)(1135,176)(1150,146)(1163,100)} -- cycle;
\addplot[fill=ccipink, draw=none] coordinates {(268,-100)(270,-104)(280,-134)(290,-224)(295,-254)(302,-214)(310,-230)(320,-184)(335,-194)(350,-184)(365,-174)(380,-164)(395,-150)(410,-150)(430,-144)(450,-144)(470,-118)(480,-102)(482,-100)} -- cycle;
\vlines
\addplot[black, line width=0.8pt] coordinates {(22,100)(1492,100)};
\addplot[black, line width=0.8pt] coordinates {(22,-100)(1492,-100)};
\addplot[navy, line width=1pt] coordinates {(22,-240)(1492,-240)};
\addplot[navy, line width=1pt] coordinates {(22,-256)(1492,-256)};
\addplot[vlred, line width=2.8pt] coordinates {(22,0)(1492,0)};
\addplot[white, line width=0.8pt, dash pattern=on 2pt off 2pt] coordinates {(22,0)(1492,0)};
\addplot[darkgreen, line width=1.1pt] coordinates {(22,116)(60,110)(100,96)(150,70)(200,36)(240,-4)(270,-54)(300,-154)(330,-184)(360,-170)(400,-154)(450,-134)(500,-104)(560,-94)(575,-84)(590,-64)(620,-54)(700,-44)(780,-38)(830,-54)(850,-24)(870,2)(890,86)(910,126)(940,130)(975,86)(995,206)(1020,306)(1045,326)(1070,286)(1100,216)(1130,216)(1160,186)(1200,116)(1240,76)(1270,70)(1290,56)};
\addplot[cciblue, line width=0.9pt] coordinates {(22,126)(35,116)(45,130)(55,106)(65,116)(75,86)(90,100)(110,96)(120,76)(135,70)(150,70)(165,66)(175,26)(190,20)(210,16)(230,2)(240,-64)(255,-84)(270,-104)(280,-134)(290,-224)(295,-254)(302,-214)(310,-230)(320,-184)(335,-194)(350,-184)(365,-174)(380,-164)(395,-150)(410,-150)(430,-144)(450,-144)(470,-118)(485,-94)(500,-98)(520,-98)(540,-94)(555,-98)(570,-84)(578,-10)(585,-34)(600,-44)(615,-54)(630,-64)(650,-54)(670,-44)(690,-44)(710,-44)(730,-38)(750,-38)(770,-30)(785,-34)(800,-54)(812,-104)(820,-94)(830,-74)(838,-54)(845,66)(850,170)(855,46)(862,86)(868,36)(875,156)(880,266)(888,186)(895,216)(905,176)(915,156)(930,136)(945,86)(960,76)(968,26)(975,106)(980,436)(988,476)(995,486)(1005,386)(1015,426)(1022,346)(1035,306)(1050,316)(1065,266)(1080,226)(1100,196)(1110,176)(1125,216)(1135,176)(1150,146)(1165,96)(1180,86)(1200,66)(1215,46)(1230,56)(1245,96)(1250,66)(1265,56)(1280,46)(1290,26)};
\tagat{darkgreen}{60}{58.26}
\tagat{oscblue}{25}{27.16}
\end{axis}
\end{tikzpicture}
\end{document}
